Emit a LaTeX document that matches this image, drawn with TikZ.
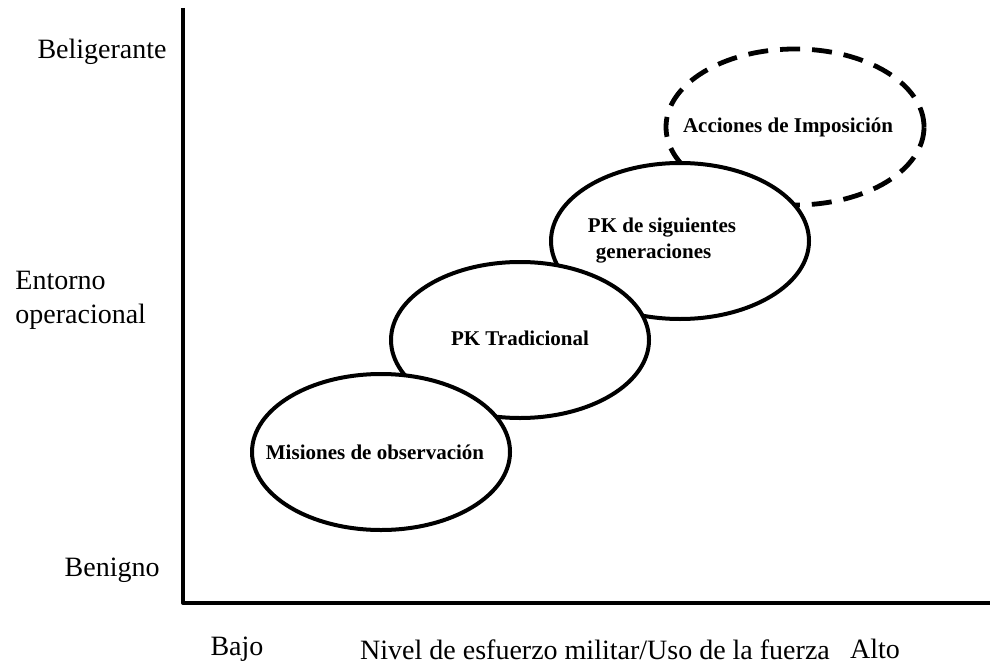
\documentclass[tikz,border=0pt]{standalone}
\usepackage{fontspec}
\setmainfont{Liberation Serif}
\usetikzlibrary{shapes.geometric}
\begin{document}
\begin{tikzpicture}[x=0.5pt, y=-0.5pt, line join=round,
		oval/.style={ellipse, draw, fill=white, line width=2pt, inner sep=0pt, minimum width=129pt, minimum height=78pt},
		ovaldash/.style={oval, dash pattern=on 10pt off 6pt, line width=2.4pt},
		eje/.style={font=\fontsize{14}{17}\selectfont, inner sep=0pt},
		dentro/.style={font=\bfseries\fontsize{10.5}{13}\selectfont, align=left, inner sep=0pt}]
		\useasboundingbox (0,0) rectangle (994,663);
		\def\xo{183} \def\yo{603} % origen de los ejes
		\coordinate (arriba) at (\xo,8);
		\coordinate (O) at (\xo,\yo);
		\coordinate (derecha) at (990,\yo);
		\draw[line width=2pt] (arriba) -- (O) -- (derecha);
		% etiquetas de los ejes
		\node[eje, anchor=east] (beli) at (167,52) {Beligerante};
		\node[eje, anchor=west, align=left] (entorno) at (15,300) {Entorno\\operacional};
		\node[eje, anchor=east] (beni) at (160,570) {Benigno};
		\node[eje] (bajo) at (237,649) {Bajo};
		\node[eje] (nivel) at (595,650) {Nivel de esfuerzo militar/Uso de la fuerza};
		\node[eje] (alto) at (875,649) {Alto};
		% elipses, de la mas alta a la mas baja
		\node[ovaldash] (impo) at (795,127) {};
		\node[dentro] (impotxt) at (788,127) {Acciones de Imposición};
		\node[oval] (sig) at (680,241) {};
		\node[dentro] (sigtxt) at (662,241) {PK de siguientes\\\hspace*{4pt}generaciones};
		\node[oval] (trad) at (520,340) {};
		\node[dentro] (tradtxt) at (520,338) {PK Tradicional};
		\node[oval] (obs) at (381,452) {};
		\node[dentro] (obstxt) at (375,452) {Misiones de observación};
\end{tikzpicture}
\end{document}
